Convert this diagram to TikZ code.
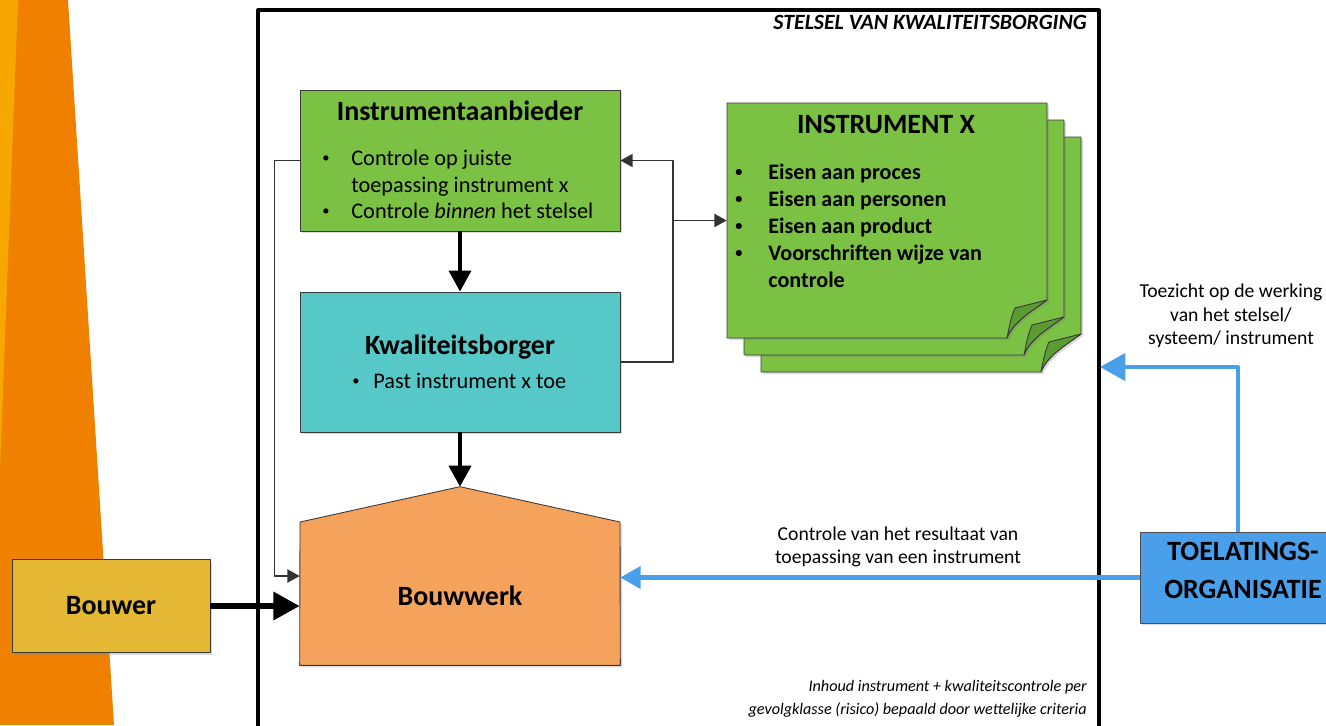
\documentclass[tikz,border=0pt]{standalone}
\usepackage{fontspec}
\usepackage{graphicx}
\setmainfont{Carlito}
\usetikzlibrary{arrows.meta,shadows}
\definecolor{decodark}{HTML}{EF8000}
\definecolor{decolight}{HTML}{F6A700}
\definecolor{aanbgreen}{HTML}{7BC143}
\definecolor{foldgreen}{HTML}{5C9B32}
\definecolor{borgcyan}{HTML}{55C8C7}
\definecolor{werkorange}{HTML}{F4A25C}
\definecolor{bouwergold}{HTML}{E4B834}
\definecolor{toelblue}{HTML}{4A9FEA}
\definecolor{edgegray}{HTML}{3A3A3A}
\newcommand{\dotje}{\raisebox{0.12em}{\scalebox{0.65}{\textbullet}}}
\begin{document}
\begin{tikzpicture}[x=0.02cm,y=-0.02cm,line join=round,
  shade/.style={drop shadow={opacity=0.3,shadow xshift=1.2pt,shadow yshift=-1.2pt}},
  box/.style={draw=edgegray,line width=0.5pt,inner sep=0,minimum width=6.4cm,minimum height=2.8cm,shade},
  page/.style={draw=edgegray,line width=0.5pt,fill=aanbgreen,shade},
  fold/.style={draw=edgegray,line width=0.5pt,fill=foldgreen},
  title/.style={anchor=base,inner sep=0,font=\fontsize{15.9}{19}\selectfont\bfseries},
  body/.style={anchor=base west,inner sep=0,font=\fontsize{12.7}{15}\selectfont},
  bold/.style={font=\fontsize{12.6}{15}\selectfont\bfseries},
  note/.style={align=center,inner sep=0,font=\fontsize{11.2}{13.3}\selectfont},
  flow/.style={line width=2.3pt,-{Triangle[length=12pt,width=12.5pt]}},
  link/.style={draw=black!80,line width=0.85pt,-{Triangle[length=7pt,width=7.5pt]}},
  toezicht/.style={draw=toelblue,line width=2.3pt}]
\useasboundingbox (0,0) rectangle (1326,725);
\fill[decodark] (0,0) -- (68,0) -- (114,725) -- (0,725) -- cycle;
\fill[decolight] (0,0) -- (18,0) -- (0,470) -- cycle;

\node[draw,line width=2pt,minimum width=16.82cm,minimum height=15cm,inner sep=0] (stelsel) at (678.5,385) {};
\node[anchor=base east,inner sep=0,font=\fontsize{12.4}{14}\selectfont\bfseries\itshape] (stelseltitel) at (1087,29) {STELSEL VAN KWALITEITSBORGING};

\node[box,fill=aanbgreen,minimum height=2.82cm] (aanbieder) at (460,160.5) {};
\node[title] (aanbtitel) at (460,120) {Instrumentaanbieder};
\node[body] (aanbregel1) at (322,165) {\makebox[0.58cm][l]{\dotje}Controle op juiste};
\node[body] (aanbregel2) at (351,192) {toepassing instrument x};
\node[body] (aanbregel3) at (322,218) {\makebox[0.58cm][l]{\dotje}Controle \emph{binnen} het stelsel};

\node[box,fill=borgcyan] (borger) at (460,362) {};
\node[title] (borgtitel) at (460,354) {Kwaliteitsborger};
\node[body] (borgregel) at (352,388) {\makebox[0.42cm][l]{\dotje}Past instrument x toe};

\node[minimum width=6.4cm,minimum height=3.56cm,inner sep=0] (bouwwerk) at (460,576) {};
\draw[draw=edgegray,line width=0.5pt,fill=werkorange,shade] (bouwwerk.south west) -- (300,522) -- (bouwwerk.north) -- (620,522) -- (bouwwerk.south east) -- cycle;
\node[title] (werktitel) at (460,605) {Bouwwerk};

\node[box,fill=bouwergold,minimum width=3.96cm,minimum height=1.86cm,font=\fontsize{15.9}{19}\selectfont\bfseries] (bouwer) at (111,606) {Bouwer};

\node[box,draw=black!70,fill=toelblue,minimum width=4.12cm,minimum height=1.82cm] (toel) at (1243,577.5) {};
\node[title] (toelregel1) at (1243,560) {TOELATINGS-};
\node[title] (toelregel2) at (1243,598) {ORGANISATIE};

\foreach \o in {34,17,0}{
  \begin{scope}[shift={(\o,\o)}]
    \draw[page] (727,103) -- (1047,103) -- (1047,300) .. controls (1032,311) and (1013,322) .. (1007,338) -- (727,338) -- cycle;
    \draw[fold] (1047,300) -- (1015,308) .. controls (1011,318) .. (1007,338) .. controls (1013,322) and (1032,311) .. cycle;
  \end{scope}
}
\node[minimum width=6.4cm,minimum height=4.7cm,inner sep=0] (instr) at (887,220.5) {};
\node[title] (instrtitel) at (886,133) {INSTRUMENT X};
\foreach \y/\t in {179/proces,206/personen,233/product}
  \node[body,bold] (eis\t) at (735,\y) {\makebox[0.66cm][l]{\dotje}Eisen aan \t};
\node[body,bold] (voorschrift1) at (735,260) {\makebox[0.66cm][l]{\dotje}Voorschriften wijze van};
\node[body,bold] (voorschrift2) at (768,287) {controle};

\draw[flow] (aanbieder) -- (borger);
\draw[flow] (borger) -- (bouwwerk.north);
\draw[flow,line width=3.4pt,-{Triangle[length=15pt,width=15.5pt]}] (bouwer) -- (bouwer -| bouwwerk.west);

\coordinate (split) at (673,220.5);
\draw[link] (aanbieder.west) -- ++(-25,0) |- (bouwwerk.west);
\draw[link] (borger.east) -| (split) |- (aanbieder.east);
\draw[link] (split) -- (instr.west);

\coordinate (tz) at (1100,367);
\draw[toezicht,-{Triangle[length=11.5pt,width=12.5pt]}] (toel.west) -- (toel.west -| bouwwerk.east);
\draw[toezicht,-{Triangle[length=14.5pt,width=15.5pt]}] ([xshift=-0.1cm]toel.north) |- (tz);
\node[note] (controle) at (898,547) {Controle van het resultaat van\\toepassing van een instrument};
\node[note] (toezichttekst) at (1231,316) {Toezicht op de werking\\van het stelsel/\\systeem/ instrument};

\node[anchor=east,align=right,inner sep=0,font=\fontsize{9.2}{13}\selectfont\itshape] (inhoud) at (1087,699) {Inhoud instrument + kwaliteitscontrole per\\gevolgklasse (risico) bepaald door wettelijke criteria};
\end{tikzpicture}
\end{document}
